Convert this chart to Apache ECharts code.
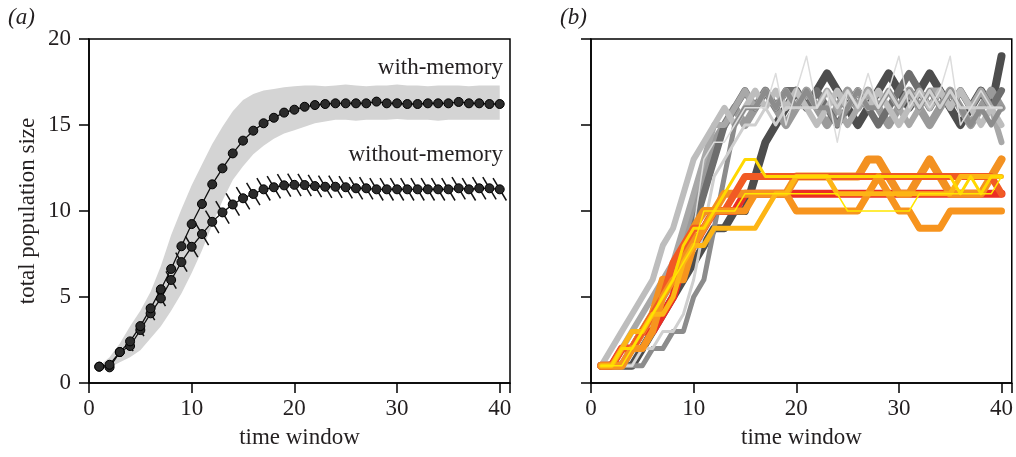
<!DOCTYPE html>
<html>
<head>
<meta charset="utf-8">
<script src="https://cdn.jsdelivr.net/npm/echarts@6/dist/echarts.min.js"></script>
<style>
  html, body { margin: 0; padding: 0; background: #fff; }
  #chart { width: 1016px; height: 457px; }
</style>
</head>
<body>
<div id="chart"></div>
<script>
// time windows 1..40
var windows = [1,2,3,4,5,6,7,8,9,10,11,12,13,14,15,16,17,18,19,20,
               21,22,23,24,25,26,27,28,29,30,31,32,33,34,35,36,37,38,39,40];

// panel (a): mean population size
var withMean = [0.95,1.06,1.8,2.42,3.31,4.34,5.45,6.63,7.95,9.24,10.41,11.55,12.48,13.35,14.09,14.67,15.1,15.42,15.72,15.89,
                16.06,16.16,16.22,16.26,16.26,16.26,16.26,16.36,16.26,16.26,16.22,16.22,16.26,16.26,16.26,16.34,16.26,16.26,16.22,16.22];
var withoutMean = [0.95,0.91,1.8,2.15,3.08,4.05,4.92,5.99,7.03,7.92,8.66,9.37,9.92,10.38,10.74,10.99,11.26,11.38,11.49,11.52,
                   11.51,11.45,11.41,11.41,11.38,11.32,11.32,11.26,11.26,11.26,11.26,11.26,11.26,11.26,11.26,11.32,11.26,11.32,11.32,11.26];
// grey band around with-memory
var withUpper = [1.0,1.5,2.3,3.3,4.2,5.3,6.8,8.6,10.1,11.5,12.7,13.9,14.9,15.8,16.45,16.8,17.0,17.1,17.2,17.25,
                 17.3,17.3,17.25,17.3,17.35,17.3,17.25,17.3,17.3,17.35,17.3,17.3,17.25,17.3,17.3,17.3,17.25,17.3,17.3,17.3];
var withLower = [1.0,0.9,1.2,1.5,1.9,2.6,3.3,4.2,5.2,6.4,7.7,9.2,10.6,11.8,12.6,13.3,13.8,14.2,14.5,14.7,
                 14.9,15.1,15.2,15.3,15.3,15.25,15.3,15.3,15.3,15.35,15.3,15.3,15.3,15.25,15.3,15.3,15.3,15.3,15.3,15.3];
// spread of without-memory (drawn as slanted bars)
var withoutSd = [0.1,0.15,0.2,0.3,0.35,0.4,0.45,0.5,0.55,0.6,0.65,0.65,0.65,0.65,0.65,0.65,0.65,0.65,0.65,0.65,
                 0.65,0.65,0.65,0.65,0.65,0.65,0.65,0.65,0.65,0.65,0.65,0.65,0.65,0.65,0.65,0.65,0.65,0.65,0.65,0.65];

// panel (b): individual runs, with memory (greys)
var runGreyA = [1,2,3,4,5,6,8,9,11,13,14,15,16,15,16,17,16,17,16,17,16,15,16,17,16,17,16,17,16,15,16,17,16,17,16,17,16,15,16,15];
var runGreyB = [1,1,2,3,4,5,6,7,9,11,13,15,15,16,17,16,17,16,17,16,17,16,17,16,15,16,17,16,17,16,15,16,17,17,16,17,16,17,16,14];
var runGreyC = [1,1,1,1,2,3,4,5,6,7,8,9,9,10,10,12,14,15,16,17,16,17,18,17,16,15,16,17,18,17,16,17,18,17,16,15,16,17,16,19];
var runGreyD = [1,1,1,2,2,3,4,5,7,9,11,13,15,16,17,16,17,16,17,17,16,17,16,15,16,17,16,15,16,17,18,17,16,17,16,17,16,17,16,17];
var runGreyE = [1,1,1,1,1,2,2,3,3,5,6,9,12,15,16,16,17,16,17,16,17,16,16,15,16,17,16,16,17,16,17,16,17,16,17,16,15,16,15,16];
var runGreyF = [1,1,1,1,2,2,3,3,4,6,9,12,13,14,15,15,16,15,16,16,16,16,17,16,17,16,17,16,17,16,17,16,17,16,17,16,16,16,16,16];
var runGreyG = [1,1,1,1,2,3,4,5,7,9,13,14,14,15,16,16,16,18,15,17,19,16,17,14,17,16,18,16,17,19,16,17,16,17,19,15,16,17,16,16];
var runGreyH = [1,1,1,2,3,4,5,6,8,10,12,14,15,16,15,16,17,16,15,16,17,16,15,16,17,16,17,16,15,16,17,16,15,16,17,16,15,16,17,16];

// panel (b): individual runs, without memory (oranges)
var runOrangeA = [1,1,1,2,3,4,6,6,7,9,10,10,11,11,11,11,11,11,11,12,12,12,12,12,12,12,13,13,12,11,11,12,13,12,11,11,11,11,12,13];
var runOrangeB = [1,1,2,2,3,3,4,5,7,8,9,10,10,10,11,11,11,11,11,11,11,11,11,11,11,11,11,11,11,11,11,11,11,11,11,11,11,11,11,11];
var runOrangeC = [1,1,2,2,3,4,5,7,8,9,9,10,10,11,12,12,12,12,12,12,12,12,12,12,12,12,12,12,12,12,12,12,12,12,12,12,12,12,12,11];
var runOrangeD = [1,1,1,2,2,3,5,6,6,8,9,10,10,10,10,11,11,11,11,10,10,10,10,10,10,10,11,12,11,10,10,9,9,9,10,10,10,10,10,10];
var runOrangeE = [1,1,2,3,3,4,4,5,7,8,8,9,9,9,9,9,10,11,11,12,12,12,12,11,11,11,11,11,11,11,11,11,11,11,11,12,12,12,12,12];
var runYellowA = [1,1,2,2,3,4,5,6,8,9,9,10,11,12,13,13,12,12,12,12,12,12,12,12,12,12,12,12,12,12,12,12,12,12,12,11,12,11,12,12];
var runYellowB = [1,1,1,2,3,4,5,6,7,8,10,10,10,10,11,11,11,11,11,11,11,11,11,11,10,10,10,10,10,10,10,11,11,11,11,11,11,11,11,12];

var serif = '"Liberation Serif", "DejaVu Serif", serif';
var ink = '#231f20';

function pairs(ys) {
  return windows.map(function (x, i) { return [x, ys[i]]; });
}

function axisX(idx) {
  return {
    gridIndex: idx, type: 'value', min: 0, max: 41, interval: 10,
    name: 'time window', nameLocation: 'middle', nameGap: 43,
    nameTextStyle: { fontFamily: serif, fontSize: 23, color: ink },
    axisLine: { show: true, onZero: false, lineStyle: { color: '#000', width: 1.5 } },
    axisTick: { show: true, length: 10, lineStyle: { color: '#000', width: 1.5 } },
    axisLabel: { show: true, margin: 14, fontFamily: serif, fontSize: 23, color: ink,
      formatter: function (v) { return v % 10 === 0 ? String(v) : ''; } },
    splitLine: { show: false }
  };
}

function axisY(idx, withLabels) {
  var ax = {
    gridIndex: idx, type: 'value', min: 0, max: 20, interval: 5,
    axisLine: { show: true, onZero: false, lineStyle: { color: '#000', width: 1.5 } },
    axisTick: { show: true, length: 10, lineStyle: { color: '#000', width: 1.5 } },
    axisLabel: { show: withLabels, margin: 18, fontFamily: serif, fontSize: 23, color: ink },
    splitLine: { show: false }
  };
  if (withLabels) {
    ax.name = 'total population size';
    ax.nameLocation = 'middle';
    ax.nameGap = 50;
    ax.nameTextStyle = { fontFamily: serif, fontSize: 23, color: ink };
  }
  return ax;
}

function run(ys, color, width) {
  return {
    type: 'line', xAxisIndex: 1, yAxisIndex: 1,
    data: pairs(ys), symbol: 'none', silent: true, animation: false,
    lineStyle: { color: color, width: width, cap: 'round', join: 'round' }
  };
}

var chart = echarts.init(document.getElementById('chart'), null, { renderer: 'canvas' });

var option = {
  animation: false,
  backgroundColor: '#fff',
  grid: [
    { left: 89, top: 39, width: 421, height: 344, show: true, borderColor: '#000', borderWidth: 1.5, backgroundColor: 'transparent' },
    { left: 591, top: 39, width: 421, height: 344, show: true, borderColor: '#000', borderWidth: 1.5, backgroundColor: 'transparent' }
  ],
  xAxis: [axisX(0), axisX(1)],
  yAxis: [axisY(0, true), axisY(1, false)],
  graphic: [
    { type: 'text', left: 8, top: 6, style: { text: '(a)', font: 'italic 23px ' + serif, fill: ink } },
    { type: 'text', left: 560, top: 6, style: { text: '(b)', font: 'italic 23px ' + serif, fill: ink } },
    { type: 'text', x: 503, y: 68, style: { text: 'with-memory', font: '23px ' + serif, fill: ink, align: 'right', verticalAlign: 'middle' } },
    { type: 'text', x: 503, y: 155, style: { text: 'without-memory', font: '23px ' + serif, fill: ink, align: 'right', verticalAlign: 'middle' } }
  ],
  series: [
    // grey band (polygon from upper and lower bounds)
    {
      type: 'custom', xAxisIndex: 0, yAxisIndex: 0, silent: true,
      data: [0],
      renderItem: function (params, api) {
        var pts = [];
        for (var i = 0; i < windows.length; i++) pts.push(api.coord([windows[i], withUpper[i]]));
        for (var j = windows.length - 1; j >= 0; j--) pts.push(api.coord([windows[j], withLower[j]]));
        return { type: 'polygon', shape: { points: pts }, style: { fill: '#d4d4d4' } };
      }
    },
    // slanted spread bars for without-memory
    {
      type: 'custom', xAxisIndex: 0, yAxisIndex: 0, silent: true,
      data: windows.map(function (x, i) { return [x, withoutMean[i], withoutSd[i]]; }),
      renderItem: function (params, api) {
        var x = api.value(0), y = api.value(1), s = api.value(2);
        var p1 = api.coord([x - s, y + s]);
        var p2 = api.coord([x + s, y - s]);
        return { type: 'line', shape: { x1: p1[0], y1: p1[1], x2: p2[0], y2: p2[1] },
                 style: { stroke: '#111', lineWidth: 1.5 } };
      }
    },
    {
      type: 'line', xAxisIndex: 0, yAxisIndex: 0, data: pairs(withoutMean),
      symbol: 'circle', symbolSize: 9, silent: true,
      lineStyle: { color: '#111', width: 1.3 },
      itemStyle: { color: '#2b2b2b', borderColor: '#000', borderWidth: 1 }
    },
    {
      type: 'line', xAxisIndex: 0, yAxisIndex: 0, data: pairs(withMean),
      symbol: 'circle', symbolSize: 9, silent: true,
      lineStyle: { color: '#111', width: 1.3 },
      itemStyle: { color: '#2b2b2b', borderColor: '#000', borderWidth: 1 }
    },
    // panel (b): with-memory runs
    run(runGreyC, '#4d4d4d', 8),
    run(runGreyH, '#9a9a9a', 8),
    run(runGreyD, '#6e6e6e', 7),
    run(runGreyB, '#a8a8a8', 6),
    run(runGreyA, '#bdbdbd', 6),
    run(runGreyE, '#8c8c8c', 5),
    run(runGreyF, '#cfcfcf', 3),
    run(runGreyG, '#dcdcdc', 1.5),
    // panel (b): without-memory runs
    run(runOrangeB, '#ec2d24', 8),
    run(runOrangeA, '#f39121', 8),
    run(runOrangeC, '#f15a24', 7),
    run(runOrangeD, '#f7941e', 7),
    run(runOrangeE, '#fdb515', 5),
    run(runYellowA, '#ffd800', 3),
    run(runYellowB, '#ffe600', 1.5)
  ]
};

chart.setOption(option);
</script>
</body>
</html>
